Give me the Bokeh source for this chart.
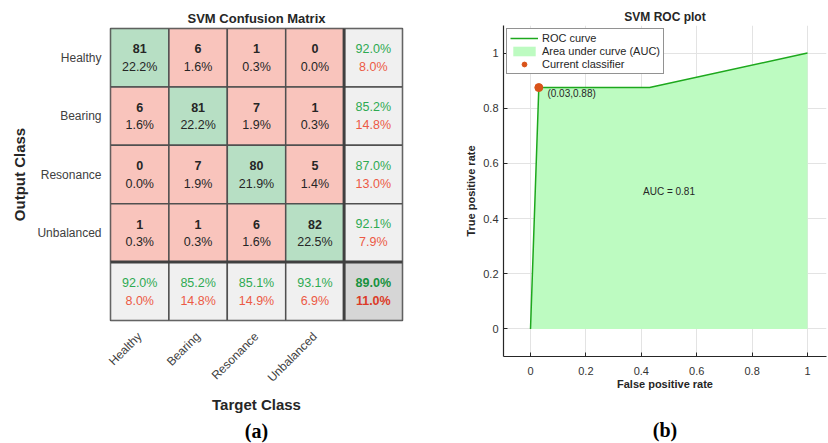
import math
from bokeh.plotting import figure
from bokeh.layouts import row
from bokeh.models import Range1d, FixedTicker, Title, Legend, LegendItem, LinearAxis
from bokeh.core.properties import value
from bokeh.embed import file_html
from bokeh.resources import INLINE

# ---------------- data ----------------
classes = ["Healthy", "Bearing", "Resonance", "Unbalanced"]
counts = [[81, 6, 1, 0],
          [6, 81, 7, 1],
          [0, 7, 80, 5],
          [1, 1, 6, 82]]
percents = [[22.2, 1.6, 0.3, 0.0],
            [1.6, 22.2, 1.9, 0.3],
            [0.0, 1.9, 21.9, 1.4],
            [0.3, 0.3, 1.6, 22.5]]
row_correct = [92.0, 85.2, 87.0, 92.1]
row_wrong = [8.0, 14.8, 13.0, 7.9]
col_correct = [92.0, 85.2, 85.1, 93.1]
col_wrong = [8.0, 14.8, 14.9, 6.9]
overall_correct = 89.0
overall_wrong = 11.0

fpr = [0.0, 0.03, 0.43, 1.0]
tpr = [0.0, 0.875, 0.875, 1.0]
current_fpr = [0.03]
current_tpr = [0.875]
current_label = "(0.03,0.88)"
auc_text = "AUC = 0.81"
roc_ticks = [0, 0.2, 0.4, 0.6, 0.8, 1]
roc_tick_labels = ["0", "0.2", "0.4", "0.6", "0.8", "1"]

FONT = "Liberation Sans"
GREEN_CELL = "#B7DFC4"
RED_CELL = "#F9C4BC"
GRAY_CELL = "#F0F0F0"
DARK_CELL = "#D6D6D6"
TXT = "#262626"
GTXT = "#2EAA52"
RTXT = "#EC5A45"

# ---------------- confusion matrix ----------------
n = len(classes)
p1 = figure(width=440, height=443, x_range=Range1d(0, n + 1), y_range=Range1d(0, n + 1),
            output_backend="svg", toolbar_location=None, frame_align=False,
            min_border_left=110, min_border_right=38, min_border_top=28, min_border_bottom=123)
p1.title.text = "SVM Confusion Matrix"
p1.title.align = "center"
p1.title.text_font = FONT
p1.title.text_font_size = "13px"
p1.title.text_font_style = "bold"
p1.title.text_color = TXT
p1.title.standoff = 6

cx, cy, cc = [], [], []
for i in range(n + 1):
    for j in range(n + 1):
        cx.append(j + 0.5)
        cy.append(n + 0.5 - i)
        if i < n and j < n:
            cc.append(GREEN_CELL if i == j else RED_CELL)
        elif i == n and j == n:
            cc.append(DARK_CELL)
        else:
            cc.append(GRAY_CELL)
p1.rect(x=cx, y=cy, width=1, height=1, fill_color=cc, line_color="#505050", line_width=1.5)
p1.segment(x0=[n, 0], y0=[0, 1], x1=[n, n + 1], y1=[n + 1, 1], line_color="#404040", line_width=3)

tx, ty, tt, tcol, tsty = [], [], [], [], []
for i in range(n):
    for j in range(n):
        xc, yc = j + 0.5, n + 0.5 - i
        tx += [xc, xc]; ty += [yc + 0.15, yc - 0.16]
        tt += [str(counts[i][j]), "%.1f%%" % percents[i][j]]
        tcol += [TXT, TXT]; tsty += ["bold", "normal"]
    xc, yc = n + 0.5, n + 0.5 - i
    tx += [xc, xc]; ty += [yc + 0.15, yc - 0.16]
    tt += ["%.1f%%" % row_correct[i], "%.1f%%" % row_wrong[i]]
    tcol += [GTXT, RTXT]; tsty += ["normal", "normal"]
for j in range(n):
    xc, yc = j + 0.5, 0.5
    tx += [xc, xc]; ty += [yc + 0.15, yc - 0.16]
    tt += ["%.1f%%" % col_correct[j], "%.1f%%" % col_wrong[j]]
    tcol += [GTXT, RTXT]; tsty += ["normal", "normal"]
tx += [n + 0.5, n + 0.5]; ty += [0.65, 0.34]
tt += ["%.1f%%" % overall_correct, "%.1f%%" % overall_wrong]
tcol += ["#16923E", "#DC3B28"]; tsty += ["bold", "bold"]
p1.text(x=tx, y=ty, text=tt, text_color=tcol, text_font_style=tsty, text_font=value(FONT),
        text_font_size="12.5px", text_align="center", text_baseline="middle")

p1.grid.visible = False
p1.outline_line_color = "#505050"
p1.outline_line_width = 1.5
for ax in (p1.xaxis[0], p1.yaxis[0]):
    ax.axis_line_color = None
    ax.major_tick_line_color = None
    ax.minor_tick_line_color = None
    ax.major_label_text_font = FONT
    ax.major_label_text_font_size = "12px"
    ax.major_label_text_color = "#404040"
    ax.axis_label_text_font = FONT
    ax.axis_label_text_font_size = "15px"
    ax.axis_label_text_font_style = "bold"
    ax.axis_label_text_color = TXT
p1.yaxis.ticker = FixedTicker(ticks=[n + 0.5 - k for k in range(n)])
p1.yaxis.major_label_overrides = {n + 0.5 - k: classes[k] for k in range(n)}
p1.yaxis.axis_label = "Output Class"
p1.yaxis.major_label_standoff = 3
p1.yaxis.axis_label_standoff = 6
p1.xaxis.ticker = FixedTicker(ticks=[k + 0.5 for k in range(n)])
p1.xaxis.major_label_orientation = math.pi / 4
p1.xaxis.major_label_overrides = {k + 0.5: classes[k] for k in range(n)}
p1.xaxis.axis_label = "Target Class"
p1.xaxis.major_label_standoff = 8
p1.xaxis.axis_label_standoff = 3
p1.add_layout(Title(text="(a)", align="center", text_font="Liberation Serif", standoff=4,
                    text_font_size="20px", text_font_style="bold", text_color="#000000"), "below")

# ---------------- ROC ----------------
p2 = figure(width=388, height=443, x_range=Range1d(-0.0975, 1.0686), y_range=Range1d(-0.1, 1.1),
            output_backend="svg", toolbar_location=None, frame_align=False,
            min_border_left=63, min_border_right=2, min_border_top=25, min_border_bottom=87)
p2.title.text = "SVM ROC plot"
p2.title.align = "center"
p2.title.text_font = FONT
p2.title.text_font_size = "12px"
p2.title.text_font_style = "bold"
p2.title.text_color = TXT
p2.title.standoff = 3

area = p2.varea(x=fpr, y1=[0] * len(fpr), y2=tpr, fill_color="#BDFBC1", fill_alpha=1.0)
line = p2.line(x=fpr, y=tpr, line_color="#1DA81D", line_width=1.5)
pt = p2.scatter(x=current_fpr, y=current_tpr, size=8, fill_color="#D95319", line_color="#D95319")
p2.text(x=[current_fpr[0] + 0.031], y=[current_tpr[0] - 0.022], text=[current_label],
        text_font=value(FONT), text_font_size="10px", text_color=TXT, text_baseline="middle")
p2.text(x=[0.5], y=[0.497], text=[auc_text], text_font=value(FONT), text_font_size="10px",
        text_color=TXT, text_align="center", text_baseline="middle")

legend = Legend(items=[LegendItem(label="ROC curve", renderers=[line]),
                       LegendItem(label="Area under curve (AUC)", renderers=[area]),
                       LegendItem(label="Current classifier", renderers=[pt])],
                location="top_left", margin=3, padding=3, spacing=1,
                glyph_width=28, glyph_height=12, label_height=12, label_standoff=4,
                label_text_font=FONT, label_text_font_size="11px", label_text_color=TXT,
                border_line_color="#262626", border_line_width=1.2,
                background_fill_color="white", background_fill_alpha=1.0)
p2.add_layout(legend)

p2.outline_line_color = None
p2.grid.grid_line_color = "#E3E3E3"
p2.xaxis.ticker = FixedTicker(ticks=roc_ticks)
p2.yaxis.ticker = FixedTicker(ticks=roc_ticks)
for ax in (p2.xaxis[0], p2.yaxis[0]):
    ax.major_label_overrides = {t: s for t, s in zip(roc_ticks, roc_tick_labels)}
    ax.axis_line_color = "#262626"
    ax.axis_line_width = 1.2
    ax.major_tick_in = 4
    ax.major_tick_out = 0
    ax.major_tick_line_color = "#262626"
    ax.minor_tick_line_color = None
    ax.major_label_text_font = FONT
    ax.major_label_text_font_size = "11px"
    ax.major_label_text_color = "#333333"
    ax.axis_label_text_font = FONT
    ax.axis_label_text_font_size = "11px"
    ax.axis_label_text_font_style = "bold"
    ax.axis_label_text_color = TXT
p2.xaxis.axis_label = "False positive rate"
p2.yaxis.axis_label = "True positive rate"
p2.xaxis.major_label_standoff = 10
p2.xaxis.axis_label_standoff = 0
p2.yaxis.major_label_standoff = 5
p2.yaxis.axis_label_standoff = 3

caption_axis = LinearAxis(ticker=FixedTicker(ticks=[]), axis_label="(b)",
                          axis_line_color=None, major_tick_in=0, major_tick_out=0,
                          minor_tick_in=0, minor_tick_out=0,
                          major_tick_line_color=None, minor_tick_line_color=None,
                          major_label_standoff=0, axis_label_standoff=26,
                          axis_label_text_font="Liberation Serif", axis_label_text_font_size="20px",
                          axis_label_text_font_style="bold", axis_label_text_color="#000000")
p2.add_layout(caption_axis, "below")

layout = row(p1, p2)
open("out.html", "w").write(file_html(layout, INLINE))
